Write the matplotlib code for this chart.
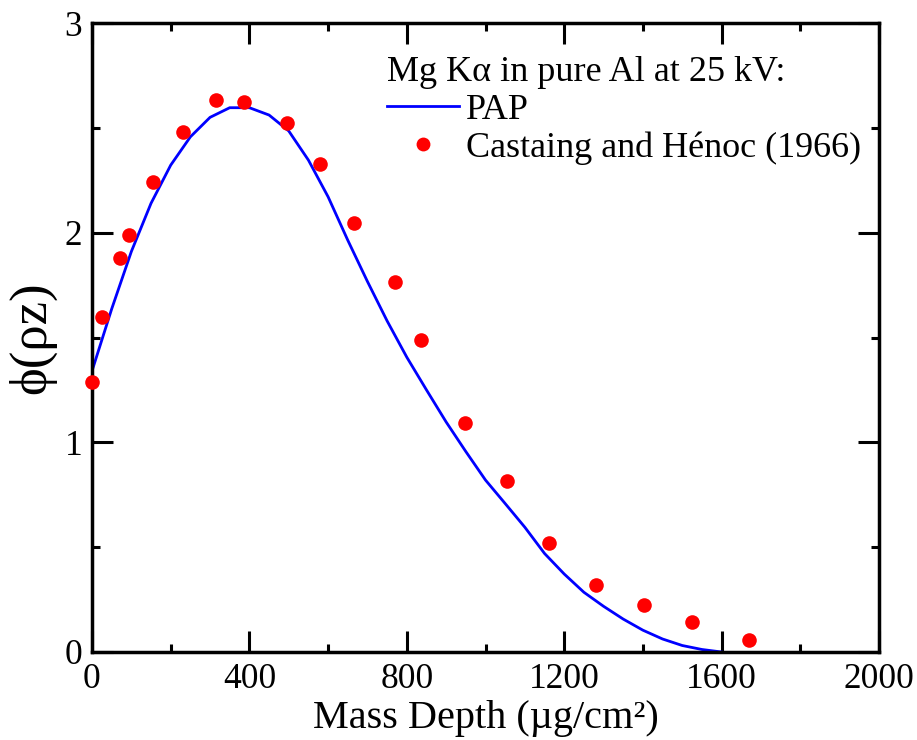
import numpy as np
import matplotlib
matplotlib.use('Agg')
import matplotlib.pyplot as plt

# PAP model curve (sampled every 50 ug/cm2)
pap_x = [0, 50, 100, 150, 200, 250, 300, 350, 400, 450, 500, 550, 600, 650, 700,
         750, 800, 850, 900, 950, 1000, 1050, 1100, 1150, 1200, 1250, 1300, 1350,
         1400, 1450, 1500, 1550, 1600]
pap_y = [1.34, 1.636, 1.91, 2.14, 2.322, 2.457, 2.55, 2.596, 2.596, 2.561, 2.485,
         2.346, 2.171, 1.964, 1.767, 1.579, 1.406, 1.25, 1.097, 0.956, 0.82, 0.708,
         0.595, 0.47, 0.372, 0.285, 0.218, 0.157, 0.104, 0.062, 0.031, 0.012, 0.0]

# Castaing and Henoc (1966) measurements
exp_x = [0, 25, 72, 93, 156, 230, 315, 387, 496, 579, 667, 770, 835, 948, 1054,
         1162, 1281, 1403, 1525, 1670]
exp_y = [1.289, 1.599, 1.877, 1.99, 2.241, 2.48, 2.634, 2.623, 2.521, 2.327, 2.044,
         1.766, 1.486, 1.094, 0.815, 0.518, 0.321, 0.226, 0.142, 0.057]

plt.rcParams['font.family'] = ['Liberation Serif', 'DejaVu Serif']

fig = plt.figure(figsize=(9.17, 7.4), dpi=100)
ax = fig.add_axes([92 / 917, 1 - 652 / 740, 787 / 917, 629 / 740])

ax.plot(pap_x, pap_y, color='#0000ff', lw=2.0, label='PAP', zorder=2)
ax.plot(exp_x, exp_y, 'o', color='#ff0000', ms=10.5, mew=0,
        label='Castaing and Hénoc (1966)', zorder=3, clip_on=False)

ax.set_xlim(0, 2000)
ax.set_ylim(0, 3)
ax.set_xticks(np.arange(0, 2001, 400))
ax.set_xticks(np.arange(0, 2001, 200), minor=True)
ax.set_yticks([0, 1, 2, 3])
ax.set_yticks([0.5, 1.5, 2.5], minor=True)

for s in ax.spines.values():
    s.set_linewidth(2.5)
ax.tick_params(which='both', direction='in', top=True, right=True, width=2.2,
               labelsize=25.5)
ax.tick_params(axis='x', pad=8)
ax.tick_params(axis='y', pad=7)
ax.tick_params(which='major', length=15)
ax.tick_params(which='minor', length=6)

ax.set_xlabel('Mass Depth (µg/cm²)', fontsize=29, labelpad=3)
ax.set_ylabel('ϕ(ρz)', fontsize=38, labelpad=6)

leg = ax.legend(title='Mg Kα in pure Al at 25 kV:', loc='upper right',
                bbox_to_anchor=(1.0, 0.976), frameon=False, fontsize=26,
                title_fontsize=26, handlelength=2.0, handletextpad=0.18,
                labelspacing=0.12, borderpad=0.0, markerscale=0.95,
                alignment='left')

fig.savefig('out.png', dpi=100)
